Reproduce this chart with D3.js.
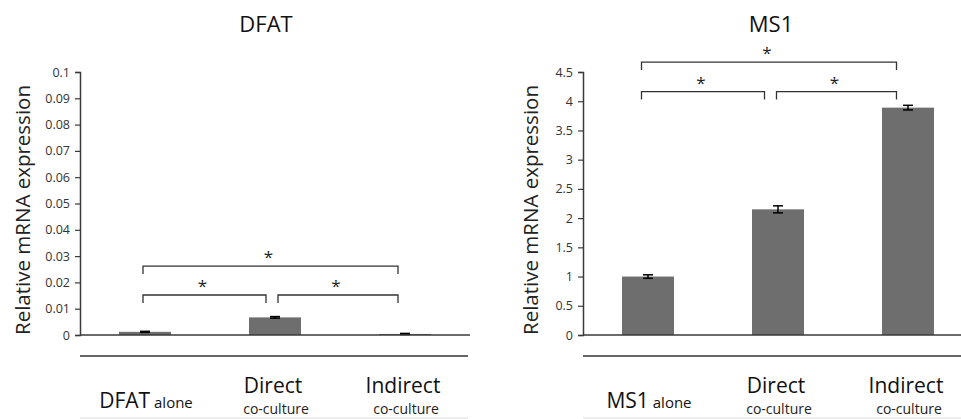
<!DOCTYPE html>
<html>
<head>
<meta charset="utf-8">
<script src="https://cdn.jsdelivr.net/npm/d3@7/dist/d3.min.js"></script>
<style>
  body { margin: 0; background: #fff; }
  svg { display: block; font-family: "Open Sans", Lato, sans-serif; }
</style>
</head>
<body>
<svg id="chart" width="961" height="419"></svg>
<script>
// ---------- data ----------
const categoriesDFAT = [["DFAT", "alone"], ["Direct", "co-culture"], ["Indirect", "co-culture"]];
const categoriesMS1  = [["MS1", "alone"], ["Direct", "co-culture"], ["Indirect", "co-culture"]];
const dfatValues = [0.0012, 0.0067, 0.0004];
const dfatErrors = [0.0002, 0.0003, 0.0002];
const ms1Values  = [1.0, 2.15, 3.89];
const ms1Errors  = [0.03, 0.06, 0.04];
const dfatTicks  = [0, 0.01, 0.02, 0.03, 0.04, 0.05, 0.06, 0.07, 0.08, 0.09, 0.1];
const dfatTickLabels = ["0", "0.01", "0.02", "0.03", "0.04", "0.05", "0.06", "0.07", "0.08", "0.09", "0.1"];
const ms1Ticks   = [0, 0.5, 1, 1.5, 2, 2.5, 3, 3.5, 4, 4.5];
const ms1TickLabels = ["0", "0.5", "1", "1.5", "2", "2.5", "3", "3.5", "4", "4.5"];
// significance brackets: [from category, to category, height in data units]
const dfatBrackets = [[0, 1, 0.0152], [1, 2, 0.0152], [0, 2, 0.0262]];
const ms1Brackets  = [[0, 1, 4.165], [1, 2, 4.165], [0, 2, 4.67]];
const titles = ["DFAT", "MS1"];
const yAxisTitle = "Relative mRNA expression";

// ---------- drawing ----------
const svg = d3.select("#chart");
const axisColor = "#3a3a3a";
const barColor = "#6e6e6e";

function panel(cfg) {
  const g = svg.append("g");
  const x = d3.scaleBand().domain(d3.range(cfg.cats.length))
    .range([cfg.left, cfg.left + 390]).paddingInner(0.6).paddingOuter(0.3);
  const y = d3.scaleLinear().domain(cfg.domain).range([335, 72]);
  const cx = i => x(i) + x.bandwidth() / 2;

  // title
  g.append("text").attr("x", cfg.titleX).attr("y", 32).attr("text-anchor", "middle")
    .attr("font-size", 22).attr("fill", "#111").text(cfg.title);

  // y axis title
  g.append("text").attr("transform", `translate(${cfg.ylabelX},210) rotate(-90)`)
    .attr("text-anchor", "middle").attr("dominant-baseline", "central")
    .attr("font-size", 20.5).attr("fill", "#222").text(yAxisTitle);

  // y axis
  const yAxis = d3.axisLeft(y).tickValues(cfg.ticks)
    .tickFormat((d, i) => cfg.tickLabels[i]).tickSizeOuter(0).tickSize(5).tickPadding(5);
  const ya = g.append("g").attr("transform", `translate(${cfg.left},0)`).call(yAxis);
  ya.select(".domain").attr("stroke", axisColor).attr("stroke-width", 1.5);
  ya.selectAll(".tick line").attr("stroke", axisColor).attr("stroke-width", 1.2);
  ya.selectAll(".tick text").attr("font-size", 12.5).attr("fill", "#333")
    .attr("font-family", "'Open Sans', Lato, sans-serif");

  // bars
  g.selectAll("rect.bar").data(cfg.values).enter().append("rect")
    .attr("x", (d, i) => x(i)).attr("width", x.bandwidth())
    .attr("y", d => y(d)).attr("height", d => y(0) - y(d))
    .attr("fill", barColor);

  // error bars
  cfg.values.forEach((v, i) => {
    const e = cfg.errors[i];
    const eg = g.append("g").attr("stroke", "#000").attr("stroke-width", 1.5);
    eg.append("line").attr("x1", cx(i)).attr("x2", cx(i)).attr("y1", y(v - e)).attr("y2", y(v + e));
    [v - e, v + e].forEach(t => eg.append("line")
      .attr("x1", cx(i) - 5).attr("x2", cx(i) + 5).attr("y1", y(t)).attr("y2", y(t)));
  });

  // x axis baseline
  const xa = d3.axisBottom(x).tickSize(0).tickFormat("");
  const xg = g.append("g").attr("transform", `translate(0,${y(0)})`).call(xa);
  xg.select(".domain").attr("stroke", axisColor).attr("stroke-width", 1.5)
    .attr("d", `M${cfg.left},0H${cfg.left + 390}`);

  // brackets
  cfg.brackets.forEach(([a, b, h]) => {
    const x1 = cx(a) + (a === 1 ? 3 : -2) + cfg.bShift;
    const x2 = cx(b) + (b === 1 ? -9 : -7) + cfg.bShift;
    const yy = y(h);
    g.append("path").attr("fill", "none").attr("stroke", "#333").attr("stroke-width", 1.3)
      .attr("d", `M${x1},${yy + 8}V${yy}H${x2}V${yy + 8}`);
    g.append("text").attr("x", (x1 + x2) / 2 - 2).attr("y", yy - 12 + 9)
      .attr("text-anchor", "middle").attr("font-size", 17).attr("fill", "#222").text("*");
  });

  // category table
  g.append("line").attr("x1", cfg.left).attr("x2", cfg.tableEnd).attr("y1", 356).attr("y2", 356)
    .attr("stroke", "#333").attr("stroke-width", 1.5);
  g.append("line").attr("x1", cfg.left).attr("x2", cfg.tableEnd).attr("y1", 418).attr("y2", 418)
    .attr("stroke", "#ddd").attr("stroke-width", 1);
  cfg.cats.forEach((c, i) => {
    if (c[1] === "alone") {
      const t = g.append("text").attr("x", cx(i) + 1).attr("y", 408).attr("text-anchor", "middle").attr("fill", "#111");
      t.append("tspan").attr("font-size", 21).text(c[0]);
      t.append("tspan").attr("font-size", 15).text(" " + c[1]);
    } else {
      g.append("text").attr("x", cx(i) - 2).attr("y", 393).attr("text-anchor", "middle")
        .attr("font-size", 21).attr("fill", "#111").text(c[0]);
      g.append("text").attr("x", cx(i) + 1).attr("y", 414).attr("text-anchor", "middle")
        .attr("font-size", 14).attr("fill", "#222").text(c[1]);
    }
  });
}

panel({ left: 80, title: titles[0], titleX: 266, ylabelX: 22, cats: categoriesDFAT,
  values: dfatValues, errors: dfatErrors, domain: [0, 0.1], ticks: dfatTicks,
  tickLabels: dfatTickLabels, brackets: dfatBrackets, bShift: 0, tableEnd: 468 });
panel({ left: 583, title: titles[1], titleX: 771, ylabelX: 530, cats: categoriesMS1,
  values: ms1Values, errors: ms1Errors, domain: [0, 4.5], ticks: ms1Ticks,
  tickLabels: ms1TickLabels, brackets: ms1Brackets, bShift: -4.5, tableEnd: 961 });
</script>
</body>
</html>
